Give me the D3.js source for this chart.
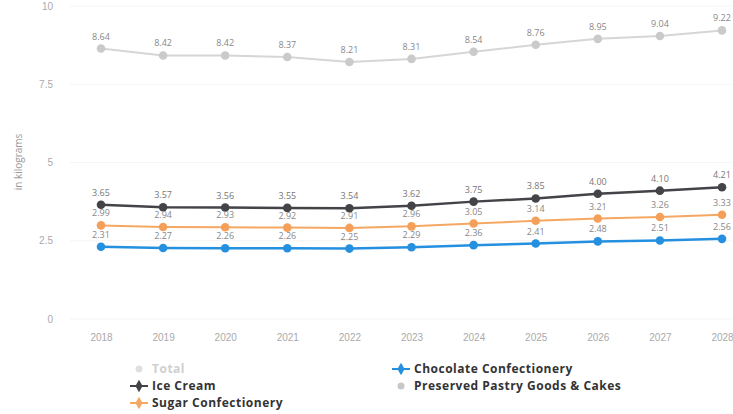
<!DOCTYPE html>
<html><head><meta charset="utf-8">
<script src="https://cdn.jsdelivr.net/npm/d3@7"></script>
<style>html,body{margin:0;padding:0;background:#fff;}svg{display:block;font-family:"Open Sans",sans-serif;}</style>
</head><body><svg id="c" width="733" height="414"></svg>
<script>
const years = ["2018","2019","2020","2021","2022","2023","2024","2025","2026","2027","2028"];
const pastry = [8.64,8.42,8.42,8.37,8.21,8.31,8.54,8.76,8.95,9.04,9.22];
const iceCream = [3.65,3.57,3.56,3.55,3.54,3.62,3.75,3.85,4.00,4.10,4.21];
const sugar = [2.99,2.94,2.93,2.92,2.91,2.96,3.05,3.14,3.21,3.26,3.33];
const chocolate = [2.31,2.27,2.26,2.26,2.25,2.29,2.36,2.41,2.48,2.51,2.56];
const yTicks = [0,2.5,5,7.5,10];

const series = [
  {name:"Preserved Pastry Goods & Cakes", values:pastry, color:"#d6d6d6", marker:"#cacaca", label:"#888", width:2},
  {name:"Ice Cream", values:iceCream, color:"#434348", marker:"#434348", label:"#777", width:2.5},
  {name:"Sugar Confectionery", values:sugar, color:"#f5a863", marker:"#f5a05a", label:"#888", width:2},
  {name:"Chocolate Confectionery", values:chocolate, color:"#2590e0", marker:"#2590e0", label:"#888", width:2.5}
];

const svg = d3.select("#c");
const x = d3.scalePoint().domain(years).range([101,722]);
const y = d3.scaleLinear().domain([0,10]).range([319,6]);

// grid
svg.append("g").selectAll("line").data(yTicks).join("line")
  .attr("x1",70).attr("x2",733).attr("y1",d=>y(d)).attr("y2",d=>y(d))
  .attr("stroke","#f5f5f5").attr("stroke-width",1);

// y axis labels
const yAxis = d3.axisLeft(y).tickValues(yTicks).tickSize(0).tickFormat(d=>d3.format("~g")(d));
const ya = svg.append("g").attr("transform","translate(55,0)").call(yAxis);
ya.select(".domain").remove();
ya.selectAll("text").attr("fill","#aaa").attr("font-size",10).attr("x",-2);

svg.append("text").attr("transform","translate(22,162) rotate(-90)")
  .attr("text-anchor","middle").attr("fill","#999").attr("font-size",10).text("in kilograms");

// x axis
const xAxis = d3.axisBottom(x).tickSize(0);
const xa = svg.append("g").attr("transform","translate(0,331)").call(xAxis);
xa.select(".domain").remove();
xa.selectAll("text").attr("fill","#aaa").attr("font-size",10);

const line = d3.line().x((d,i)=>x(years[i])).y(d=>y(d));
series.forEach(s=>{
  const g = svg.append("g");
  g.append("path").datum(s.values).attr("d",line).attr("fill","none")
    .attr("stroke",s.color).attr("stroke-width",s.width);
  g.selectAll("circle").data(s.values).join("circle")
    .attr("cx",(d,i)=>x(years[i])).attr("cy",d=>y(d)).attr("r",4.3).attr("fill",s.marker);
  g.selectAll("text").data(s.values).join("text")
    .attr("x",(d,i)=>x(years[i])).attr("y",d=>y(d)-9)
    .attr("text-anchor","middle").attr("font-size",9).attr("fill",s.label)
    .text(d=>d3.format(".2f")(d));
});

// legend
const legend = [
  {name:"Total", color:"#e0e0e0", text:"#cfcfcf", shape:"circle", x:130, y:369},
  {name:"Ice Cream", color:"#434348", text:"#333", shape:"diamond", x:130, y:386},
  {name:"Sugar Confectionery", color:"#f5a863", text:"#333", shape:"diamond", x:130, y:403},
  {name:"Chocolate Confectionery", color:"#2590e0", text:"#333", shape:"diamond", x:392, y:369},
  {name:"Preserved Pastry Goods & Cakes", color:"#c8c8c8", text:"#333", shape:"circle", x:392, y:386}
];
const lg = svg.append("g");
legend.forEach(l=>{
  if(l.shape==="diamond"){
    lg.append("line").attr("x1",l.x).attr("x2",l.x+18).attr("y1",l.y).attr("y2",l.y)
      .attr("stroke",l.color).attr("stroke-width",2);
    lg.append("path").attr("d",d3.symbol(d3.symbolDiamond,45)())
      .attr("transform",`translate(${l.x+9},${l.y})`).attr("fill",l.color);
  } else {
    lg.append("circle").attr("cx",l.x+9).attr("cy",l.y).attr("r",3.5).attr("fill",l.color);
  }
  lg.append("text").attr("x",l.x+22).attr("y",l.y+4.2).attr("font-size",12)
    .attr("font-weight",700).attr("letter-spacing","0.5px").attr("fill",l.text).text(l.name);
});
</script></body></html>
